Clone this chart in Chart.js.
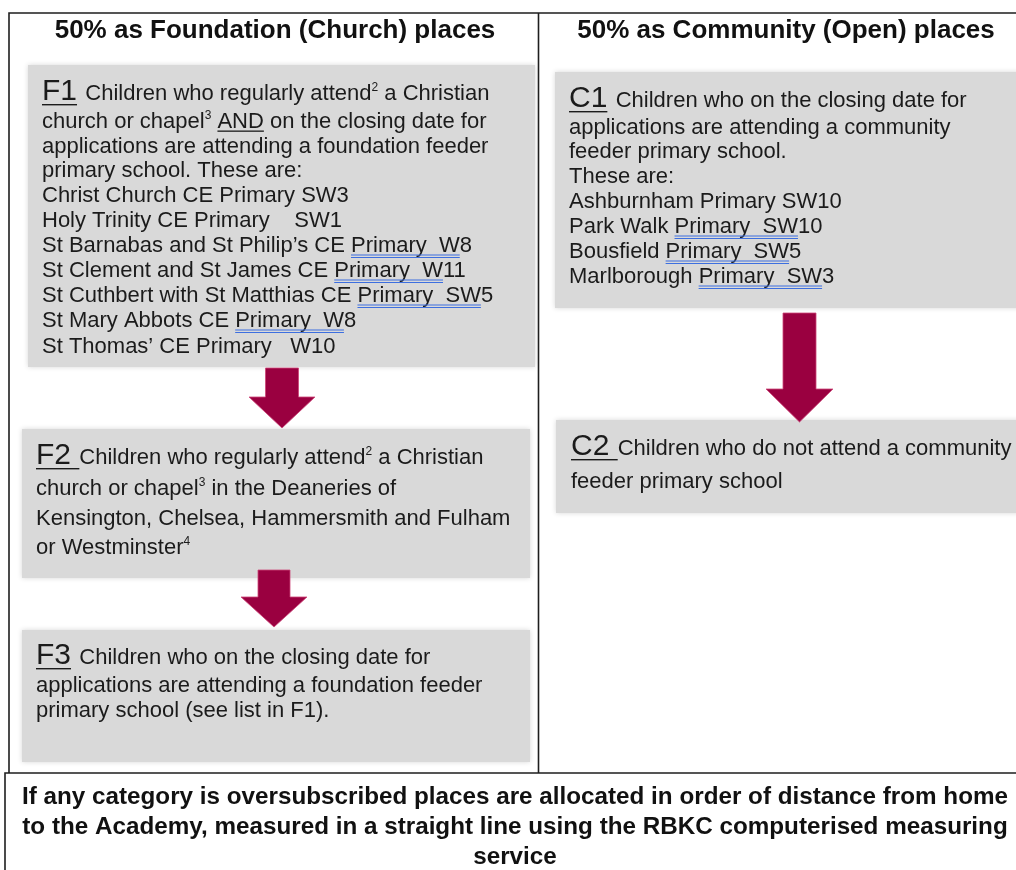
<!DOCTYPE html>
<html>
<head>
<meta charset="utf-8">
<script src="https://cdn.jsdelivr.net/npm/chart.js@4.4.0/dist/chart.umd.min.js"></script>
<style>
  html, body { margin: 0; padding: 0; background: #fff; }
  canvas { display: block; }
</style>
</head>
<body>
<canvas id="myChart" width="1016" height="870"></canvas>
<script>
// text content of the flow chart
// markup: _x_ = black underline, ~x~ = blue double underline, ^n = superscript
const columnTitles = ["50% as Foundation (Church) places", "50% as Community (Open) places"];
const boxLabels = ["F1", "F2", "F3", "C1", "C2"];

const f1Lines = [
  "Children who regularly attend^2 a Christian",
  "church or chapel^3 _AND_ on the closing date for",
  "applications are attending a foundation feeder",
  "primary school. These are:",
  "Christ Church CE Primary SW3",
  "Holy Trinity CE Primary    SW1",
  "St Barnabas and St Philip\u2019s CE ~Primary  W~8",
  "St Clement and St James CE ~Primary  W~11",
  "St Cuthbert with St Matthias CE ~Primary  SW~5",
  "St Mary Abbots CE ~Primary  W~8",
  "St Thomas\u2019 CE Primary   W10"
];
const f2Lines = [
  "Children who regularly attend^2 a Christian",
  "church or chapel^3 in the Deaneries of",
  "Kensington, Chelsea, Hammersmith and Fulham",
  "or Westminster^4"
];
const f3Lines = [
  "Children who on the closing date for",
  "applications are attending a foundation feeder",
  "primary school (see list in F1)."
];
const c1Lines = [
  "Children who on the closing date for",
  "applications are attending a community",
  "feeder primary school.",
  "These are:",
  "Ashburnham Primary SW10",
  "Park Walk ~Primary  SW~10",
  "Bousfield ~Primary  SW~5",
  "Marlborough ~Primary  SW~3"
];
const c2Lines = [
  "Children who do not attend a community",
  "feeder primary school"
];
const footerLines = [
  "If any category is oversubscribed places are allocated in order of distance from home",
  "to the Academy, measured in a straight line using the RBKC computerised measuring",
  "service"
];
const arrowLinks = [["F1", "F2"], ["F2", "F3"], ["C1", "C2"]];

// layout, in axis units (the axes span the page 1:1)
const layout = {
  frame: { left: 9, top: 13, divider: 538.5, bottom: 773, footLeft: 5, right: 1030 },
  titles: [{ cx: 275, base: 38 }, { cx: 786, base: 38 }],
  boxes: {
    F1: { x0: 28, y0: 65, x1: 535, y1: 367, tx: 42, lines: f1Lines, spaceU: false,
          base: [100, 128, 153, 177, 202, 227, 252, 277, 302, 327, 353] },
    F2: { x0: 22, y0: 429, x1: 530, y1: 578, tx: 36, lines: f2Lines, spaceU: true,
          base: [464, 495, 525, 554] },
    F3: { x0: 22, y0: 630, x1: 530, y1: 762, tx: 36, lines: f3Lines, spaceU: false,
          base: [664, 692, 717] },
    C1: { x0: 555, y0: 72, x1: 1030, y1: 308, tx: 569, lines: c1Lines, spaceU: false,
          base: [107, 134, 158, 183, 208, 233, 258, 283] },
    C2: { x0: 556, y0: 420, x1: 1030, y1: 513, tx: 571, lines: c2Lines, spaceU: true,
          base: [455, 488] }
  },
  arrows: [
    { cx: 282, shaftHalf: 16.5, top: 368, neck: 397, headHalf: 33, tip: 428 },
    { cx: 274, shaftHalf: 16, top: 570, neck: 597, headHalf: 33, tip: 627 },
    { cx: 799.5, shaftHalf: 16.5, top: 313, neck: 389, headHalf: 33.5, tip: 422 }
  ],
  footer: { cx: 515, width: 986, base: [804, 834, 864] }
};

const FONT = '"Liberation Sans", Arial, sans-serif';
const BODY = 22, LABEL = 30, SUP = 12;

function parseLine(s) {
  const segs = [];
  let mode = null, cur = "";
  const push = () => { if (cur) segs.push({ t: cur, u: mode, sup: false }); cur = ""; };
  for (let i = 0; i < s.length; i++) {
    const ch = s[i];
    if (ch === "_" || ch === "~") {
      push();
      mode = mode ? null : (ch === "_" ? "black" : "blue");
      continue;
    }
    if (ch === "^") {
      push();
      segs.push({ t: s[i + 1], u: mode, sup: true });
      i++;
      continue;
    }
    cur += ch;
  }
  push();
  return segs;
}

function drawRich(ctx, str, x, y) {
  for (const seg of parseLine(str)) {
    ctx.font = (seg.sup ? SUP : BODY) + "px " + FONT;
    const w = ctx.measureText(seg.t).width;
    ctx.fillStyle = "#1b1b1b";
    ctx.fillText(seg.t, x, seg.sup ? y - 9 : y);
    if (seg.u === "black") {
      ctx.fillStyle = "#1b1b1b";
      ctx.fillRect(x, y + 2.5, w, 1.3);
    } else if (seg.u === "blue") {
      ctx.fillStyle = "#3d6fe0";
      ctx.fillRect(x, y + 2.5, w, 1);
      ctx.fillRect(x, y + 5, w, 1);
    }
    x += w;
  }
  return x;
}

const flowPlugin = {
  id: "flow",
  afterDraw(chart) {
    const ctx = chart.ctx;
    const sx = v => chart.scales.x.getPixelForValue(v);
    const sy = v => chart.scales.y.getPixelForValue(v);
    const f = layout.frame;
    ctx.save();
    ctx.textBaseline = "alphabetic";

    // gray category boxes
    boxLabels.forEach(k => {
      const b = layout.boxes[k];
      ctx.save();
      ctx.shadowColor = "rgba(0,0,0,0.16)";
      ctx.shadowBlur = 5;
      ctx.fillStyle = "#d9d9d9";
      ctx.fillRect(sx(b.x0), sy(b.y0), sx(b.x1) - sx(b.x0), sy(b.y1) - sy(b.y0));
      ctx.restore();
    });

    // frame lines
    ctx.strokeStyle = "#1e1e1e";
    ctx.lineWidth = 1.6;
    ctx.beginPath();
    ctx.moveTo(sx(f.left), sy(f.bottom)); ctx.lineTo(sx(f.left), sy(f.top)); ctx.lineTo(sx(f.right), sy(f.top));
    ctx.moveTo(sx(f.divider), sy(f.top)); ctx.lineTo(sx(f.divider), sy(f.bottom));
    ctx.moveTo(sx(f.footLeft), sy(870 + 5)); ctx.lineTo(sx(f.footLeft), sy(f.bottom)); ctx.lineTo(sx(f.right), sy(f.bottom));
    ctx.stroke();

    // column titles
    ctx.fillStyle = "#111";
    ctx.font = "bold 26px " + FONT;
    ctx.textAlign = "center";
    columnTitles.forEach((t, i) => {
      ctx.fillText(t, sx(layout.titles[i].cx), sy(layout.titles[i].base));
    });
    ctx.textAlign = "left";

    // box texts
    boxLabels.forEach(k => {
      const b = layout.boxes[k];
      const x = sx(b.tx), y0 = sy(b.base[0]);
      ctx.font = LABEL + "px " + FONT;
      ctx.fillStyle = "#1b1b1b";
      ctx.fillText(k, x, y0);
      const lw = ctx.measureText(k).width;
      const sp = ctx.measureText(" ").width;
      ctx.fillRect(x, y0 + 4, lw + (b.spaceU ? sp : 0), 1.4);
      b.lines.forEach((line, i) => {
        const lx = i === 0 ? x + lw + sp : x;
        drawRich(ctx, line, lx, sy(b.base[i]));
      });
    });

    // arrows between categories
    arrowLinks.forEach((link, i) => {
      const a = layout.arrows[i];
      ctx.beginPath();
      ctx.moveTo(sx(a.cx - a.shaftHalf), sy(a.top));
      ctx.lineTo(sx(a.cx + a.shaftHalf), sy(a.top));
      ctx.lineTo(sx(a.cx + a.shaftHalf), sy(a.neck));
      ctx.lineTo(sx(a.cx + a.headHalf), sy(a.neck));
      ctx.lineTo(sx(a.cx), sy(a.tip));
      ctx.lineTo(sx(a.cx - a.headHalf), sy(a.neck));
      ctx.lineTo(sx(a.cx - a.shaftHalf), sy(a.neck));
      ctx.closePath();
      ctx.fillStyle = "#9a0040";
      ctx.fill();
      ctx.strokeStyle = "rgba(205,70,120,0.8)";
      ctx.lineWidth = 1;
      ctx.stroke();
    });

    // footer note, condensed bold
    const ft = layout.footer;
    ctx.font = "bold 24px " + FONT;
    ctx.fillStyle = "#111";
    ctx.textAlign = "center";
    const k = (sx(ft.width) - sx(0)) / ctx.measureText(footerLines[0]).width;
    footerLines.forEach((t, i) => {
      ctx.save();
      ctx.translate(sx(ft.cx), sy(ft.base[i]));
      ctx.scale(k, 1);
      ctx.fillText(t, 0, 0);
      ctx.restore();
    });
    ctx.restore();
  }
};

new Chart("myChart", {
  type: "scatter",
  data: { datasets: [] },
  options: {
    responsive: false,
    animation: false,
    events: [],
    layout: { padding: 0 },
    plugins: { legend: { display: false }, tooltip: { enabled: false } },
    scales: {
      x: { type: "linear", min: 0, max: 1016, display: false },
      y: { type: "linear", min: 0, max: 870, reverse: true, display: false }
    }
  },
  plugins: [flowPlugin]
});
</script>
</body>
</html>
